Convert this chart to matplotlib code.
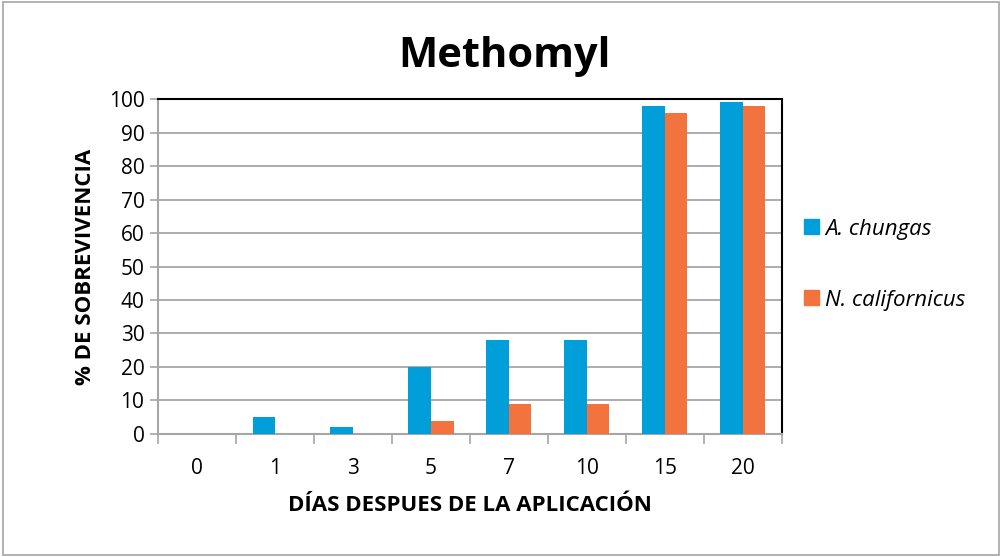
import matplotlib
matplotlib.use("Agg")
import matplotlib.pyplot as plt
import numpy as np
from matplotlib.patches import Rectangle, Patch

categories = ["0", "1", "3", "5", "7", "10", "15", "20"]
a_chungas = [0, 5, 2, 20, 28, 28, 98, 99]
n_californicus = [0, 0, 0, 4, 9, 9, 96, 98]
series_names = ["A. chungas", "N. californicus"]
yticks = list(range(0, 101, 10))

plt.rcParams['font.family'] = ['Open Sans', 'DejaVu Sans']

fig = plt.figure(figsize=(10.02, 5.57), dpi=100)
ax = fig.add_axes([0.158, 0.221, 0.622, 0.601])

blue = "#009FDA"
orange = "#F3733F"
x = np.arange(len(categories))
w = 0.29
ax.bar(x - w / 2, a_chungas, w, color=blue, zorder=3)
ax.bar(x + w / 2, n_californicus, w, color=orange, zorder=3)

ax.set_xlim(-0.5, len(categories) - 0.5)
ax.set_ylim(0, 100)
ax.set_yticks(yticks)
ax.set_yticklabels([str(v) for v in yticks], fontsize=15)
ax.yaxis.grid(True, color="#A6A6A6", linewidth=1.3, zorder=0)
ax.set_xticks(x)
ax.set_xticklabels(categories, fontsize=15)
ax.set_xticks(np.arange(-0.5, len(categories)), minor=True)
ax.tick_params(axis='x', which='major', length=0, pad=17)
ax.tick_params(axis='x', which='minor', length=7, color="#A6A6A6", width=1.2)
ax.tick_params(axis='y', length=6, color="#A6A6A6", width=1.2, pad=4)

for side in ["top", "right"]:
    ax.spines[side].set_color("black")
    ax.spines[side].set_linewidth(1.5)
for side in ["left", "bottom"]:
    ax.spines[side].set_color("#A6A6A6")
    ax.spines[side].set_linewidth(1.5)

ax.set_ylabel("% DE SOBREVIVENCIA", fontsize=16, fontweight='bold', labelpad=9)
ax.set_xlabel("DÍAS DESPUES DE LA APLICACIÓN", fontsize=16, fontweight='bold', labelpad=12)

fig.text(0.503, 0.898, "Methomyl", ha='center', va='center', fontsize=30, fontweight='bold')

handles = [Patch(color=blue), Patch(color=orange)]
leg = fig.legend(handles, series_names, loc='center left', bbox_to_anchor=(0.782, 0.525),
                 frameon=False, prop={'size': 16, 'style': 'italic'},
                 labelspacing=2.25, handlelength=0.68, handleheight=0.68, handletextpad=0.3)

fig.patches.append(Rectangle((0.003, 0.004), 0.994, 0.992, transform=fig.transFigure,
                             fill=False, edgecolor="#A6A6A6", linewidth=1.2))

fig.savefig("out.png", dpi=100)
